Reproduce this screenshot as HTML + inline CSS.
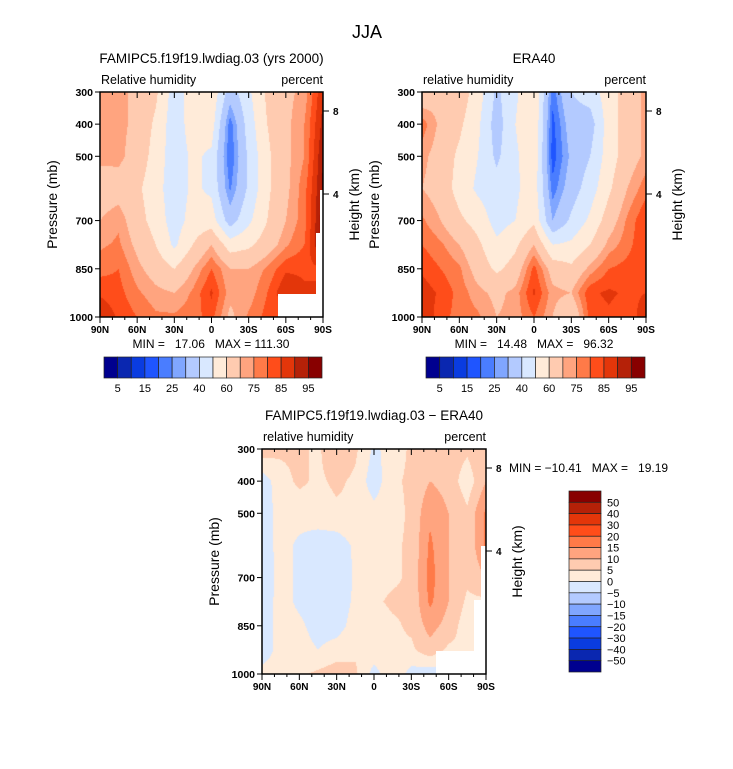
<!DOCTYPE html>
<html><head><meta charset="utf-8"><style>
body{margin:0;background:#fff;width:733px;height:769px;overflow:hidden;position:relative;font-family:"Liberation Sans",sans-serif}
canvas{position:absolute}
svg{position:absolute;left:0;top:0}
text{white-space:pre}
</style></head><body>
<canvas id="c1" width="223" height="225" style="left:100px;top:92px"></canvas>
<canvas id="c2" width="224" height="225" style="left:422px;top:92px"></canvas>
<canvas id="c3" width="224" height="225" style="left:262px;top:449px"></canvas>
<svg id="ov" width="733" height="769" font-family="Liberation Sans, sans-serif"></svg>
<script>
const lats=[90,75,60,45,30,15,0,-15,-30,-45,-60,-75,-90];
const pres=[300,400,500,600,700,775,850,925,1000];
const rhLevels=[5,10,15,20,25,30,40,50,60,70,75,80,85,90,95];
const diffLevels=[-50,-40,-30,-20,-15,-10,-5,0,5,10,15,20,30,40,50];
const rhLabels=["5","15","25","40","60","75","85","95"];
const diffLabels=["50","40","30","20","15","10","5","0","\u22125","\u221210","\u221215","\u221220","\u221230","\u221240","\u221250"];
const colors=["#00008f","#0a27b0","#0a3ce0","#1f55ff","#4a7dff","#80a6ff","#b3caff","#d9e8ff","#ffebd9","#ffcbb0","#ffa47f","#ff7a48","#ff4d1a","#e3360a","#b52108","#880000"];
const model=[
[72,72,68,62,45,55,58,35,48,62,68,72,90],
[72,72,68,58,44,55,55,22,45,60,68,75,92],
[72,72,66,56,44,52,48,20,42,58,68,75,95],
[65,66,62,54,44,52,48,24,42,58,68,78,96],
[70,74,64,56,45,54,55,35,48,60,70,78,98],
[74,76,68,60,48,60,70,55,58,65,74,80,98],
[78,80,72,66,60,70,80,70,70,76,84,84,84],
[84,82,76,72,70,76,86,72,72,80,90,86,86],
[90,84,80,76,76,78,82,68,76,82,82,82,82]];
const era=[
[62,68,66,55,38,48,60,22,40,45,55,65,72],
[78,68,62,52,35,50,60,18,35,35,55,65,72],
[72,66,58,50,38,48,58,17,32,40,55,65,72],
[70,66,56,48,44,48,56,22,35,45,58,70,78],
[76,70,62,56,46,50,58,30,42,52,65,76,85],
[80,76,70,62,52,58,70,50,52,60,72,78,85],
[84,80,76,66,58,64,82,66,62,72,80,82,85],
[88,84,78,72,68,72,86,72,70,84,86,84,85],
[90,82,78,76,70,72,80,70,60,82,84,82,88]];
const diff=[
[8,6,6,4,10,6,-1,2,6,8,8,6,10],
[-3,3,6,4,6,4,-3,4,6,10,8,2,10],
[-3,2,2,3,4,4,2,3,6,14,10,6,16],
[-3,2,-1,-3,-3,1,2,4,6,16,10,6,16],
[-4,2,-1,-3,-5,1,3,4,6,17,10,6,10],
[-3,2,-1,-3,-3,1,4,6,6,16,10,4,4],
[-3,2,1,-2,-2,2,2,4,6,12,8,2,2],
[-3,2,2,0,2,4,3,4,4,8,4,4,4],
[2,2,4,6,8,6,-2,4,-2,-3,-3,-3,-3]];
function hex(c){return [parseInt(c.substr(1,2),16),parseInt(c.substr(3,2),16),parseInt(c.substr(5,2),16)];}
function drawField(id,grid,levels){
 const cv=document.getElementById(id),ctx=cv.getContext('2d'),W=cv.width,H=cv.height;
 const img=ctx.createImageData(W,H);
 for(let y=0;y<H;y++){
  const p=300+(y+0.5)/H*700;let r=0;while(r<pres.length-2&&p>pres[r+1])r++;
  const ty=(p-pres[r])/(pres[r+1]-pres[r]);
  for(let x=0;x<W;x++){
   const fx=(x+0.5)/W*(lats.length-1);let c=Math.min(Math.floor(fx),lats.length-2);const tx=fx-c;
   const v=(grid[r][c]*(1-tx)+grid[r][c+1]*tx)*(1-ty)+(grid[r+1][c]*(1-tx)+grid[r+1][c+1]*tx)*ty;
   let k=0;while(k<levels.length&&v>=levels[k])k++;
   const col=hex(colors[k]);const i=(y*W+x)*4;
   img.data[i]=col[0];img.data[i+1]=col[1];img.data[i+2]=col[2];img.data[i+3]=255;
  }}
 ctx.putImageData(img,0,0);
}
drawField('c1',model,rhLevels);drawField('c2',era,rhLevels);drawField('c3',diff,diffLevels);
const NS="http://www.w3.org/2000/svg",ov=document.getElementById('ov');
function el(tag,attrs,name,txt){const e=document.createElementNS(NS,tag);for(const k in attrs)e.setAttribute(k,attrs[k]);
 
 
 if(txt!==undefined)e.textContent=txt;ov.appendChild(e);return e;}
function text(x,y,s,size,anchor,name,extra){return el('text',Object.assign({x:x,y:y,'font-size':size,'text-anchor':anchor||'middle',fill:'#000'},extra||{}),name,s);}
function panel(x0,y0,w,h,title,left,right,whites){
 whites.forEach(pg=>el('polygon',{points:pg.map(q=>q.join(',')).join(' '),fill:'#fff'},'missing-data-region'));
 el('rect',{x:x0,y:y0,width:w,height:h,fill:'none',stroke:'#000','stroke-width':1.5},'plot-frame');
 text(x0+w/2,y0-29,title,13.5,'middle','panel-title');
 text(x0+1,y0-8,left,12.5,'start','variable-label');
 text(x0+w,y0-8,right,12.5,'end','units-label');
 const ys=p=>y0+(p-300)/700*h;
 [300,400,500,700,850,1000].forEach(p=>{el('line',{x1:x0-5,x2:x0,y1:ys(p),y2:ys(p),stroke:'#000'},'y-tick');
  text(x0-7,ys(p)+4,String(p),10.5,'end','y-tick-label',{'font-weight':'bold'});});
 for(let l=90;l>=-90;l-=10){const x=x0+(90-l)/180*w,big=(l%30===0);
  el('line',{x1:x,x2:x,y1:y0,y2:y0+(big?6:3),stroke:'#000'},'top-tick');
  el('line',{x1:x,x2:x,y1:y0+h,y2:y0+h+(big?6:3),stroke:'#000'},'x-tick');
  if(big)text(x,y0+h+16,l===0?'0':Math.abs(l)+(l>0?'N':'S'),10,'middle','x-tick-label',{'font-weight':'bold'});}
 [[8,y0+19],[4,y0+102]].forEach(t=>{el('line',{x1:x0+w,x2:x0+w+6,y1:t[1],y2:t[1],stroke:'#000'},'height-tick');
  text(x0+w+10,t[1]+4,String(t[0]),10,'start','height-tick-label',{'font-weight':'bold'});});
 const ya=y0+h/2;
 text(0,0,'Pressure (mb)',14,'middle','y-axis-title',{transform:`translate(${x0-43},${ya}) rotate(-90)`});
 text(0,0,'Height (km)',14,'middle','height-axis-title',{transform:`translate(${x0+w+36},${ya}) rotate(-90)`});
}
text(367,38,'JJA',18,'middle','figure-title');
panel(100,92,223,225,'FAMIPC5.f19f19.lwdiag.03 (yrs 2000)','Relative humidity','percent',
 [[[278,294],[316,294],[316,233],[320,233],[320,190],[324,190],[324,318],[278,318]]]);
panel(422,92,224,225,'ERA40','relative humidity','percent',[]);
panel(262,449,224,225,'FAMIPC5.f19f19.lwdiag.03 \u2212 ERA40','relative humidity','percent',
 [[[436,651],[474,651],[474,600],[481,600],[481,546],[487,546],[487,675],[436,675]]]);
text(211,348,'MIN =   17.06   MAX = 111.30',12,'middle','min-max-label');
text(534,348,'MIN =   14.48   MAX =   96.32',12,'middle','min-max-label');
text(509,472,'MIN = \u221210.41   MAX =   19.19',12,'start','min-max-label');
function hbar(x0,y0,w,h){const bw=w/colors.length;
 colors.forEach((c,i)=>el('rect',{x:x0+i*bw,y:y0,width:bw,height:h,fill:c,stroke:'#222','stroke-width':0.7},'colorbar-box'));
 rhLabels.forEach((s,j)=>text(x0+(2*j+1)*bw,y0+h+14,s,11,'middle','colorbar-label'));}
hbar(104,357,218,21);hbar(426,357,219,21);
const vx=569,vy=491,vw=32,vh=181,bh=vh/colors.length;
colors.slice().reverse().forEach((c,i)=>el('rect',{x:vx,y:vy+i*bh,width:vw,height:bh,fill:c,stroke:'#222','stroke-width':0.7},'colorbar-box'));
diffLabels.forEach((s,i)=>text(vx+vw+6,vy+(i+1)*bh+4,s,11,'start','colorbar-label'));
</script>
</body></html>
